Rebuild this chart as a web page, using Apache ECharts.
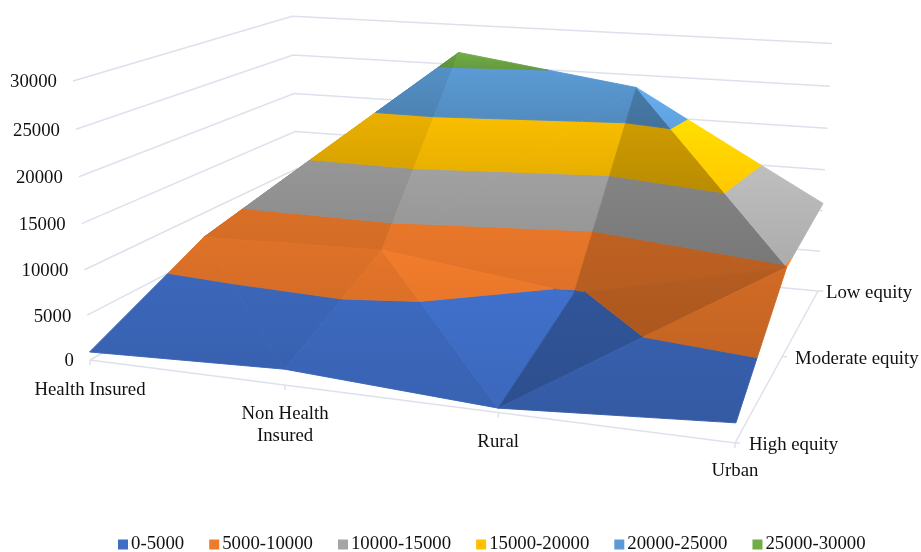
<!DOCTYPE html>
<html>
<head>
<meta charset="utf-8">
<style>html,body{margin:0;padding:0;background:#fff}#chart{width:921px;height:552px}</style>
<script src="https://cdn.jsdelivr.net/npm/echarts@6/dist/echarts.min.js"></script>
</head>
<body>
<div id="chart"></div>
<script>
// Survey values, one list per equity level, in category order
const categories = ['Health Insured', 'Non Health\nInsured', 'Rural', 'Urban'];
const equityLevels = ['High equity', 'Moderate equity', 'Low equity'];
const highEquity = [900, 1700, 450, 1950];
const moderateEquity = [7100, 7600, 4700, 9850];
const lowEquity = [5000, 26560, 23500, 10900];
const valueTicks = [0, 5000, 10000, 15000, 20000, 25000, 30000];
const bandNames = ['0-5000', '5000-10000', '10000-15000', '15000-20000', '20000-25000', '25000-30000'];
const bandColors = ['#3F6EC7', '#EF7A2B', '#A5A5A5', '#FFC000', '#5B9BD5', '#70AD47'];

const rows = [highEquity, moderateEquity, lowEquity];
const valueMax = valueTicks[valueTicks.length - 1];
const FONT = '18.8px "Liberation Serif"';
const GRID_COLOR = '#DDE1EC';

// Camera: floor corners on the page, the vanishing point of vertical lines,
// the spacing of the category stations and a small shear of the walls
const floor = [[90, 360], [735, 443], [818, 291], [298, 243]];
const vanish = [465, 6517];
const wallLift = -0.04335;
const categoryStations = [0, 0.337, 0.669, 1];
const wallShear = [-4, 8];

const homography = (() => {
  const [[x0, y0], [x1, y1], [x2, y2], [x3, y3]] = floor;
  const dx1 = x1 - x2, dx2 = x3 - x2, sx = x0 - x1 + x2 - x3;
  const dy1 = y1 - y2, dy2 = y3 - y2, sy = y0 - y1 + y2 - y3;
  const den = dx1 * dy2 - dx2 * dy1;
  const g = (sx * dy2 - dx2 * sy) / den;
  const h = (dx1 * sy - sx * dy1) / den;
  return {
    a: x1 - x0 + g * x1, b: x3 - x0 + h * x3, c: x0,
    d: y1 - y0 + g * y1, e: y3 - y0 + h * y3, f: y0, g, h
  };
})();

// u: along categories, v: into depth, value: height
function project(u, v, value) {
  const m = homography, t = value / valueMax, w = t * wallLift;
  const z = m.g * u + m.h * v + 1 + w;
  return [
    (m.a * u + m.b * v + m.c + w * vanish[0]) / z,
    (m.d * u + m.e * v + m.f + w * vanish[1]) / z + t * v * (wallShear[0] + wallShear[1] * u)
  ];
}

const lastCol = categories.length - 1;
const lastRow = equityLevels.length - 1;
const node = (col, row) => [categoryStations[col], row / lastRow, rows[row][col]];

// Triangles of the surface, back to front, with the lighting of each one
const facets = [
  [[0, 1], [0, 2], [1, 2]],
  [[0, 1], [1, 1], [1, 2]],
  [[1, 1], [2, 2], [1, 2]],
  [[1, 1], [2, 1], [2, 2]],
  [[2, 1], [3, 1], [2, 2]],
  [[2, 2], [3, 1], [3, 2]],
  [[0, 0], [1, 0], [0, 1]],
  [[0, 1], [1, 0], [1, 1]],
  [[1, 0], [2, 0], [1, 1]],
  [[1, 1], [2, 0], [2, 1]],
  [[2, 0], [3, 1], [2, 1]],
  [[2, 0], [3, 0], [3, 1]]
];
const facetLight = [0.8, 0.89, 0.96, 0.96, 0.79, 1.13, 0.93, 0.93, 0.96, 1.02, 0.77, 0.89];

function clipAt(poly, level, keepAbove) {
  const out = [];
  poly.forEach((p, i) => {
    const q = poly[(i + 1) % poly.length];
    const pIn = keepAbove ? p[2] >= level : p[2] <= level;
    const qIn = keepAbove ? q[2] >= level : q[2] <= level;
    if (pIn) out.push(p);
    if (pIn !== qIn) {
      const s = (level - p[2]) / (q[2] - p[2]);
      out.push([p[0] + s * (q[0] - p[0]), p[1] + s * (q[1] - p[1]), level]);
    }
  });
  return out;
}

function bandPolygon(f, band) {
  const tri = facets[f].map(([c, r]) => node(c, r));
  return clipAt(clipAt(tri, valueTicks[band], true), valueTicks[band + 1], false);
}

function shade(hex, k) {
  const n = parseInt(hex.slice(1), 16);
  const mix = c => Math.min(255, Math.round(c * k));
  return `rgb(${mix(n >> 16)},${mix((n >> 8) & 255)},${mix(n & 255)})`;
}

// Vertical extent of a band on the page, so its shading runs unbroken over the facets
function bandExtent(band) {
  let top = Infinity, bottom = -Infinity;
  facets.forEach((_, f) => {
    bandPolygon(f, band).forEach(p => {
      const y = project(p[0], p[1], p[2])[1];
      top = Math.min(top, y);
      bottom = Math.max(bottom, y);
    });
  });
  return [top, bottom];
}

function facetRenderer(band) {
  const [top, bottom] = bandExtent(band);
  const base = bandColors[band];
  return function (params, api) {
    const f = api.value(0);
    const poly = bandPolygon(f, band);
    if (poly.length < 3) return null;
    const k = facetLight[f];
    const points = poly.map(p => api.coord(project(p[0], p[1], p[2])));
    const fill = new echarts.graphic.LinearGradient(0, top, 0, bottom, [
      { offset: 0, color: shade(base, k * 1.05) },
      { offset: 1, color: shade(base, k * 0.92) }
    ], true);
    return {
      type: 'polygon',
      z2: f,
      shape: { points },
      style: { fill, stroke: fill, lineWidth: 0.9, lineJoin: 'round' }
    };
  };
}

function line(api, pts, width) {
  return {
    type: 'polyline',
    shape: { points: pts.map(p => api.coord(p)) },
    style: { fill: 'none', stroke: GRID_COLOR, lineWidth: width || 1.5 }
  };
}

function label(api, pos, text, align) {
  const [x, y] = api.coord(pos);
  return {
    type: 'text',
    style: { x, y, text, font: FONT, fill: '#111', align, verticalAlign: 'middle', lineHeight: 22 }
  };
}

// Walls, floor, ticks and axis labels
function axesRenderer(params, api) {
  const children = [];
  valueTicks.forEach(t => {
    const a = project(0, 0, t), b = project(0, 1, t), c = project(1, 1, t);
    children.push(line(api, [a, b, c]));
    children.push(label(api, [a[0] - 16, a[1] + 1.5], String(t), 'right'));
  });
  children.push(line(api, [project(0, 0, 0), project(1, 0, 0), project(1, 1, 0)]));
  categories.forEach((name, i) => {
    const p = project(categoryStations[i], 0, 0);
    children.push(line(api, [p, [p[0], p[1] + 5]]));
    const multi = name.includes('\n');
    const drop = i === lastCol ? 28 : (multi ? 40 : 30);
    children.push(label(api, [p[0], p[1] + drop], name, 'center'));
  });
  equityLevels.forEach((name, i) => {
    const p = project(1, i / lastRow, 0);
    children.push(line(api, [p, [p[0] + 5, p[1]]]));
    children.push(label(api, [p[0] + (i === 2 ? 8 : i === 1 ? 13 : 14), p[1] + 2], name, 'left'));
  });
  return { type: 'group', children };
}

const chart = echarts.init(document.getElementById('chart'));
chart.setOption({
  animation: false,
  color: bandColors,
  grid: { left: 0, right: 0, top: 0, bottom: 0 },
  xAxis: { type: 'value', min: 0, max: 921, show: false },
  yAxis: { type: 'value', min: 0, max: 552, inverse: true, show: false },
  legend: {
    data: bandNames,
    left: 113,
    top: 530,
    icon: 'rect',
    itemWidth: 10,
    itemHeight: 10,
    itemGap: 25,
    selectedMode: false,
    textStyle: { fontFamily: 'Liberation Serif', fontSize: 18.8, color: '#111', padding: [0, 0, 0, -2] }
  },
  series: [
    {
      type: 'custom',
      name: 'axes',
      z: 1,
      silent: true,
      clip: false,
      coordinateSystem: 'cartesian2d',
      data: [[0]],
      renderItem: axesRenderer
    },
    ...bandNames.map((name, band) => ({
      type: 'custom',
      name,
      z: 2,
      silent: true,
      clip: false,
      coordinateSystem: 'cartesian2d',
      itemStyle: { color: bandColors[band] },
      data: facets.map((_, i) => [i]),
      encode: { x: 0, y: 0 },
      renderItem: facetRenderer(band)
    }))
  ]
});
</script>
</body>
</html>
